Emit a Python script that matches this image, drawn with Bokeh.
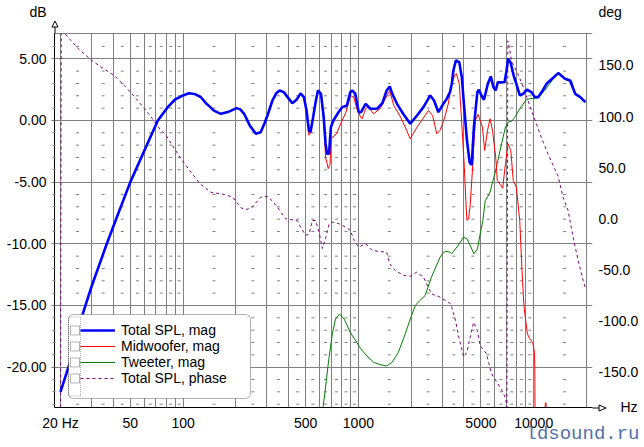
import math
import numpy as np
from bokeh.plotting import figure
from bokeh.layouts import column
from bokeh.models import (Range1d, LinearAxis, FixedTicker, PrintfTickFormatter, Legend,
                          LegendItem, BoxAnnotation, Span)
from bokeh.core.properties import value
from bokeh.embed import file_html
from bokeh.resources import INLINE

# ---------------- data ----------------
total_freq = [20, 23, 26.9, 30, 36.5, 42, 50, 60.8, 71.8, 81.8, 90, 100, 108, 116, 126, 135, 143,
              150, 164, 180, 202, 212, 223, 240, 260, 277, 290, 303, 323, 340, 355, 375, 402, 420,
              445, 468, 489, 506, 522, 533, 552, 570, 588, 612, 634, 650, 662, 680, 697, 720, 770,
              808, 860, 900, 925, 960, 1004, 1035, 1100, 1170, 1280, 1370, 1450, 1510, 1560, 1660,
              1800, 1975, 2160, 2350, 2570, 2700, 2860, 3050, 3190, 3330, 3412, 3480, 3600, 3760,
              3890, 4010, 4160, 4310, 4430, 4560, 4770, 4870, 5040, 5200, 5480, 5690, 5890, 6070,
              6240, 6820, 6990, 7140, 7380, 7700, 7960, 8330, 8700, 9160, 9700, 10140, 10600,
              11250, 11830, 12920, 13800, 15080, 16120, 17240, 18440, 19700]
total_db = [-22.0, -19.3, -15.6, -13.5, -10.1, -7.8, -5.0, -2.3, 0.0, 1.08, 1.7, 2.03, 2.2, 2.15,
            1.9, 1.4, 1.08, 0.8, 0.54, 0.68, 1.0, 0.9, 0.54, -0.4, -1.08, -0.95, -0.3, 0.4, 1.6,
            2.2, 2.43, 2.3, 1.75, 1.4, 1.7, 2.2, 1.89, 0.81, -0.81, -0.95, 0.27, 1.49, 2.43, 2.16,
            0.27, -1.9, -2.7, -2.7, -0.54, 0.0, 0.67, 1.08, 1.22, 2.3, 2.43, 2.16, 0.67, 0.67,
            1.35, 0.95, 0.95, 1.4, 2.43, 2.76, 2.16, 1.35, 0.54, -0.27, 0.4, 1.08, 2.03, 1.62,
            0.67, 1.35, 1.75, 2.3, 2.97, 4.05, 4.87, 4.73, 3.5, 1.1, -1.6, -3.4, -3.6, -0.5, 2.3,
            2.49, 2.0, 1.68, 3.0, 3.57, 2.7, 2.43, 3.1, 3.1, 4.0, 5.0, 4.7, 3.6, 2.97, 2.03, 2.16,
            2.49, 2.3, 1.89, 1.89, 2.43, 2.97, 3.46, 3.84, 3.38, 3.24, 2.16, 1.89, 1.48]

# Midwoofer follows the total below ~500 Hz
mid_freq = total_freq[:37] + [
    506, 522, 533, 552, 570, 588, 612, 634, 650, 673, 690, 697, 750, 800, 850, 900, 940, 980,
    1030, 1050, 1100, 1140, 1220, 1330, 1410, 1510, 1590, 1740, 1850, 1975, 2160, 2330, 2510,
    2650, 2800, 2920, 3100, 3250, 3400, 3550, 3620, 3760, 3890, 4020, 4100, 4160, 4250, 4340,
    4450, 4560, 4650, 4810, 5100, 5250, 5450, 5640, 5820, 6070, 6200, 6450, 6650, 6900, 7140,
    7400, 7640, 7960, 8320, 8630, 8800, 9000, 9200, 9500, 9870, 10100, 10150, 10200, 11550,
    11640, 11760, 11850, 13000]
mid_db = total_db[:37] + [
    0.81, -1.2, -1.0, 0.27, 1.49, 2.43, 2.0, 0.0, -3.0, -3.9, -3.5, -1.49, -1.08, -0.13, 0.67,
    2.03, 1.89, 0.95, 0.27, 0.13, 0.95, 1.08, 0.54, 0.95, 1.62, 2.43, 1.22, 0.27, -0.54, -1.49,
    -0.54, 0.13, 0.81, 0.4, -1.08, -0.8, 0.2, 1.3, 2.9, 3.7, 3.8, 3.0, -0.27, -3.8, -6.5, -8.1,
    -8.0, -6.9, -4.5, -1.8, 0.0, 0.49, -0.54, -2.43, -0.8, 0.14, -0.81, -2.97, -4.86, -5.2,
    -5.5, -3.5, -1.9, -2.43, -4.86, -5.4, -8.1, -13.0, -15.1, -16.2, -17.3, -17.7, -18.0,
    -18.8, -20.3, -30.0, -30.0, -22.9, -22.9, -30.0, -30.0]

tw_freq = [600, 628, 650, 676, 710, 740, 780, 830, 900, 960, 1030, 1120, 1220, 1330, 1450, 1560,
           1690, 1850, 1976, 2110, 2240, 2400, 2610, 2920, 3060, 3150, 3360, 3410, 3720, 3980,
           4170, 4560, 4780, 4950, 5130, 5290, 5610, 5800, 6010, 6250, 6550, 6900, 7140, 7460,
           7770, 8330, 9060, 9510, 10600, 11560, 12920, 13800, 15400, 16450, 17240, 18440, 19700]
tw_db = [-30.0, -23.3, -21.6, -19.5, -17.3, -16.1, -15.7, -16.1, -17.2, -17.8, -18.5, -19.1,
         -19.6, -19.8, -19.9, -19.6, -18.8, -17.3, -16.1, -15.0, -14.6, -14.2, -12.7, -11.1,
         -10.7, -10.6, -10.7, -10.8, -10.1, -9.46, -9.6, -10.8, -10.4, -9.2, -8.1, -6.5, -5.9,
         -5.1, -4.3, -3.24, -1.9, -0.54, -0.13, -0.08, 0.22, 0.95, 1.68, 1.76, 1.84, 2.43, 3.38,
         3.84, 3.24, 3.19, 2.16, 1.89, 1.48]

ph_freq = [20, 20.2, 25, 30, 35, 40.6, 47, 53, 60, 65.8, 71.8, 80, 89, 99, 111, 125, 144, 172,
           192, 214, 229, 250, 277, 303, 325, 345, 385, 448, 468, 500, 523, 546, 570, 597, 623,
           652, 681, 710, 775, 848, 900, 946, 1004, 1100, 1200, 1330, 1450, 1510, 1620, 1810,
           1976, 2150, 2350, 2610, 2920, 3250, 3360, 3580, 3740, 3990, 4160, 4340, 4540, 4770,
           4940, 5380, 5740, 6240, 6650, 6940, 7030, 7120, 7300, 7460, 7770, 8100, 8580, 9000,
           9570, 10350, 11040, 12050, 13160, 13760, 14690, 15700, 16780, 17920, 19150, 19770]
ph_deg = [-190, 185, 167, 155, 147, 140, 129, 119, 108, 99.4, 90, 81.5, 69, 57, 45.6, 34.3, 26,
          23.8, 21.2, 10.8, 8.9, 12.1, 21.2, 21.9, 17, 11.4, 0.1, -1.6, -8.1, -16, -15, -1.6,
          -1.6, -13, -29, -18, -4.8, -3.2, -4.8, -8.1, -11.3, -21.1, -27.6, -24.3, -30.9, -31.9,
          -32.5, -43.9, -50.4, -55.3, -56, -52.1, -57, -73.2, -76.5, -81.4, -83, -99.3, -115.6,
          -135, -130, -115.6, -101, -109, -123.7, -131.8, -151.3, -161, -169, -175.8, -190, 174,
          165, 154.7, 148, 141.8, 132, 122, 109, 93, 79.8, 63.6, 49, 42, 21.2, 8.2, -17.9,
          -40.6, -60.2, -68.3]

series_labels = ["Total SPL, mag", "Midwoofer, mag", "Tweeter, mag", "Total SPL, phase"]
db_ticks = [-20, -15, -10, -5, 0, 5]
deg_ticks = [-150, -100, -50, 0, 50, 100, 150]
freq_ticks = [20, 50, 100, 500, 1000, 5000, 10000]
freq_labels = ["20 Hz", "50", "100", "500", "1000", "5000", "10000"]
left_unit, right_unit, x_unit = "dB", "deg", "Hz"
watermark = "ldsound.ru"

# ---------------- layout ----------------
W, H = 644, 447
X_MIN, X_MAX = 18.48, 21640.0
DB_MIN, DB_MAX = -23.27, 7.05
DEG_MIN, DEG_MAX = -184.3, 181.1
L, R, T, B = 54, 592, 33, 407
FONT = "Liberation Sans"
GRID = "#808080"


def xd(px):
    lo, hi = math.log10(X_MIN), math.log10(X_MAX)
    return 10 ** (lo + (px - L) / (R - L) * (hi - lo))


def yd(py):
    return DB_MAX - (py - T) / (B - T) * (DB_MAX - DB_MIN)


p = figure(width=W, height=H, x_axis_type="log",
           x_range=Range1d(X_MIN, X_MAX), y_range=Range1d(DB_MIN, DB_MAX),
           output_backend="svg", toolbar_location=None, title=None,
           min_border_left=L, min_border_right=W - R, min_border_top=T,
           min_border_bottom=H - B)
p.background_fill_color = "white"
p.border_fill_color = "white"
p.outline_line_color = None
p.extra_y_ranges = {"deg": Range1d(DEG_MIN, DEG_MAX)}

grid_freqs = [n * 10 ** k for k in range(1, 5) for n in range(1, 10) if X_MIN <= n * 10 ** k <= X_MAX]
minor_freqs = [(n + 0.5) * 10 ** k for k in range(1, 5) for n in range(1, 10)
               if X_MIN <= (n + 0.5) * 10 ** k <= X_MAX]
minor_db = [v for v in range(-23, 7) if v % 5 != 0]

p.xgrid.ticker = FixedTicker(ticks=grid_freqs)
p.xgrid.grid_line_color = GRID
p.ygrid.ticker = FixedTicker(ticks=db_ticks)
p.ygrid.grid_line_color = GRID

gx, gy = np.meshgrid(minor_freqs, minor_db)
p.scatter(gx.ravel(), gy.ravel(), marker="dash", size=3, line_color=GRID, line_width=1)

# ---------------- curves ----------------
r_ph = p.line(ph_freq, ph_deg, y_range_name="deg", line_color="#800080", line_width=1,
              line_dash="3 3")
r_tw = p.line(tw_freq, tw_db, line_color="#008000", line_width=1)
r_mid = p.line(mid_freq, mid_db, line_color="#ff0000", line_width=1)
r_tot = p.line(total_freq, total_db, line_color="#0000ff", line_width=2.6)

# ---------------- axes ----------------
yax = p.yaxis[0]
yax.ticker = FixedTicker(ticks=db_ticks, minor_ticks=minor_db)
yax.formatter = PrintfTickFormatter(format="%.2f")
yax.axis_line_color = "black"
yax.major_tick_line_color = GRID
yax.major_tick_out = 3
yax.major_tick_in = 0
yax.minor_tick_line_color = GRID
yax.minor_tick_out = 2
yax.minor_tick_in = 1
yax.major_label_standoff = 5
yax.major_label_text_font = FONT
yax.major_label_text_font_size = "14px"
yax.major_label_text_color = "black"

rax = LinearAxis(y_range_name="deg", ticker=FixedTicker(ticks=deg_ticks, minor_ticks=[]),
                 formatter=PrintfTickFormatter(format="%.1f"))
rax.axis_line_color = None
rax.major_tick_line_color = None
rax.major_tick_out = 0
rax.major_tick_in = 0
rax.minor_tick_line_color = None
rax.major_label_standoff = 6
rax.major_label_text_font = FONT
rax.major_label_text_font_size = "14px"
rax.major_label_text_color = "black"
p.add_layout(rax, "right")

xax = p.xaxis[0]
xax.ticker = FixedTicker(ticks=freq_ticks, minor_ticks=[])
xax.major_label_overrides = dict(zip(freq_ticks, freq_labels))
xax.axis_line_color = "black"
xax.major_tick_line_color = None
xax.major_tick_out = 0
xax.major_tick_in = 0
xax.minor_tick_line_color = None
xax.major_label_standoff = 7
xax.major_label_text_font = FONT
xax.major_label_text_font_size = "14px"
xax.major_label_text_color = "black"

p.add_layout(Span(location=DB_MAX, dimension="width", line_color="black", line_width=1))

# ---------------- legend ----------------
p.add_layout(BoxAnnotation(left=xd(68), right=xd(250), top=yd(314), bottom=yd(398),
                           fill_color="white", fill_alpha=1, line_color="black", line_width=1,
                           border_radius=5))
p.add_layout(BoxAnnotation(left=xd(68), right=xd(80), top=yd(316.5), bottom=yd(395.5),
                           fill_alpha=0, line_color="black", line_width=1, line_dash="1 1"))
row_centers = [330, 346, 362, 378]
for cy in row_centers:
    p.add_layout(BoxAnnotation(left=xd(70), right=xd(79), top=yd(cy - 4.5), bottom=yd(cy + 4.5),
                               fill_color="white", fill_alpha=1, line_color="black",
                               line_width=1))

legend = Legend(items=[LegendItem(label=value(lbl), renderers=[r])
                       for lbl, r in zip(series_labels, [r_tot, r_mid, r_tw, r_ph])],
                location=(80 - L, B - 386), padding=0, margin=0, spacing=0,
                glyph_width=35, glyph_height=16, label_height=16, label_standoff=6,
                label_text_font=FONT, label_text_font_size="14px", label_text_color="black",
                background_fill_alpha=0, border_line_color=None)
p.add_layout(legend, "center")

# ---------------- transparent overlay (texts and axis arrows outside the frame) ----------------
ov = figure(width=W, height=H, x_range=Range1d(0, W), y_range=Range1d(H, 0),
            output_backend="svg", toolbar_location=None, title=None,
            x_axis_location=None, y_axis_location=None, min_border=0,
            min_border_left=0, min_border_right=0, min_border_top=0, min_border_bottom=0)
ov.background_fill_color = None
ov.border_fill_color = None
ov.outline_line_color = None
for g in ov.grid:
    g.visible = False
ov.stylesheets = [":host { position: absolute !important; left: 0px !important; "
                  "top: 0px !important; pointer-events: none; }"]

ov.text(x=[46], y=[11], text=[left_unit], text_align="right", text_baseline="middle",
        text_font=value(FONT), text_font_size="14px", text_color="black")
ov.text(x=[598], y=[11], text=[right_unit], text_align="left", text_baseline="middle",
        text_font=value(FONT), text_font_size="14px", text_color="black")
ov.text(x=[620], y=[406], text=[x_unit], text_align="left", text_baseline="middle",
        text_font=value(FONT), text_font_size="14px", text_color="black")
ov.text(x=[639], y=[433], text=[watermark], text_align="right", text_baseline="middle",
        text_font=value("Liberation Mono"), text_font_size="19px", text_color="#5470a8")

# axis extensions with open arrow heads
ov.segment(x0=[54.5, 592], y0=[26.5, 407.5], x1=[54.5, 598.5], y1=[33, 407.5],
           line_color="black", line_width=1)
ov.patches(xs=[[51.5, 54.5, 57.5], [598.5, 605.5, 598.5]],
           ys=[[26.5, 20.5, 26.5], [404.5, 407.5, 410.5]],
           fill_color="white", line_color="black", line_width=1)

try:
    ov.frame_align = False
    html = file_html(column(p, ov, spacing=0), INLINE)
except AttributeError:
    html = file_html([p, ov], INLINE)
open("out.html", "w").write(html)
